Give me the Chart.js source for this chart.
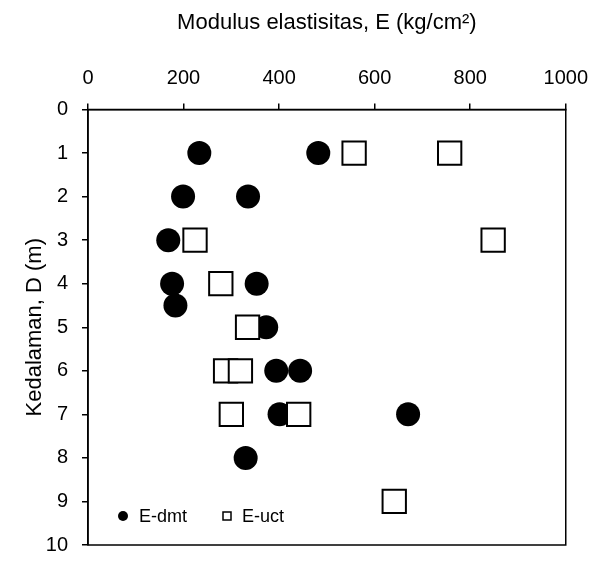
<!DOCTYPE html>
<html>
<head>
<meta charset="utf-8">
<script src="https://cdn.jsdelivr.net/npm/chart.js@4/dist/chart.umd.min.js"></script>
<style>
  html, body { margin: 0; padding: 0; background: #fff; }
  #wrap { width: 601px; height: 571px; }
</style>
</head>
<body>
<div id="wrap"><canvas id="chart" width="601" height="571"></canvas></div>
<script>
// E-dmt values (kg/cm2) and their depths (m)
const dmtE     = [233, 482, 199, 335, 168, 176, 353, 183, 373, 394, 444, 401, 670, 330];
const dmtDepth = [1,   1,   2,   2,   3,   4,   4,   4.5, 5,   6,   6,   7,   7,   8];

// E-uct values and depths
const uctE     = [557, 757, 224, 848, 278, 334, 288, 319, 300, 441, 641];
const uctDepth = [1,   1,   3,   3,   4,   5,   6,   6,   7,   7,   9];

const seriesLabels = ["E-dmt", "E-uct"];

const font = "'Liberation Sans', Arial, sans-serif";

function pts(xs, ys) {
  return xs.map((x, i) => ({ x: x, y: ys[i] }));
}

// full box round the plot
const boxPlugin = {
  id: "box",
  afterDraw(chart) {
    const a = chart.chartArea, c = chart.ctx;
    c.save();
    c.strokeStyle = "#000";
    c.lineWidth = 1.5;
    c.strokeRect(a.left, a.top, a.right - a.left, a.bottom - a.top);
    c.restore();
  }
};

// legend inside the plot, bottom left
const legendPlugin = {
  id: "innerLegend",
  afterDraw(chart) {
    const a = chart.chartArea, c = chart.ctx;
    const y = a.bottom - 29;
    c.save();
    c.font = "18px " + font;
    c.textBaseline = "middle";
    c.fillStyle = "#000";
    c.beginPath();
    c.arc(a.left + 35, y, 5, 0, Math.PI * 2);
    c.fill();
    c.fillText(seriesLabels[0], a.left + 51, y + 1);
    c.lineWidth = 1.5;
    c.strokeStyle = "#000";
    c.strokeRect(a.left + 135, y - 4, 8, 8);
    c.fillText(seriesLabels[1], a.left + 154, y + 1);
    c.restore();
  }
};

new Chart(document.getElementById("chart"), {
  type: "scatter",
  data: {
    datasets: [
      {
        label: seriesLabels[0],
        data: pts(dmtE, dmtDepth),
        pointStyle: "circle",
        pointRadius: 12,
        pointHoverRadius: 12,
        backgroundColor: "#000",
        borderColor: "#000",
        borderWidth: 0,
        order: 2
      },
      {
        label: seriesLabels[1],
        data: pts(uctE, uctDepth),
        pointStyle: "rect",
        pointRadius: 16.5,
        pointHoverRadius: 16.5,
        backgroundColor: "#fff",
        borderColor: "#000",
        borderWidth: 2,
        order: 1
      }
    ]
  },
  options: {
    responsive: false,
    animation: false,
    layout: { padding: { left: 0, right: 26, top: 0, bottom: 6 } },
    plugins: {
      legend: { display: false },
      tooltip: { enabled: false }
    },
    scales: {
      x: {
        type: "linear",
        position: "top",
        min: 0,
        max: 1000,
        ticks: {
          stepSize: 200,
          color: "#000",
          font: { family: font, size: 20 },
          padding: 13,
          callback: v => String(v)
        },
        grid: { drawOnChartArea: false, drawTicks: true, tickLength: 6, color: "#000", lineWidth: 1.5 },
        border: { display: true, color: "#000", width: 1.5 },
        title: {
          display: true,
          text: "Modulus elastisitas, E (kg/cm²)",
          color: "#000",
          font: { family: font, size: 22 },
          padding: { top: 10, bottom: 16 }
        },
        afterFit(scale) { scale.height = 109.5; }
      },
      y: {
        type: "linear",
        reverse: true,
        min: 0,
        max: 10,
        ticks: { stepSize: 1, color: "#000", font: { family: font, size: 20 }, padding: 14 },
        grid: { drawOnChartArea: false, drawTicks: true, tickLength: 6, color: "#000", lineWidth: 1.5 },
        border: { display: true, color: "#000", width: 1.5 },
        title: {
          display: true,
          text: "Kedalaman, D (m)",
          color: "#000",
          font: { family: font, size: 22 },
          padding: { top: 22, bottom: 4 }
        },
        afterFit(scale) { scale.width = 88; }
      }
    }
  },
  plugins: [boxPlugin, legendPlugin]
});
</script>
</body>
</html>
